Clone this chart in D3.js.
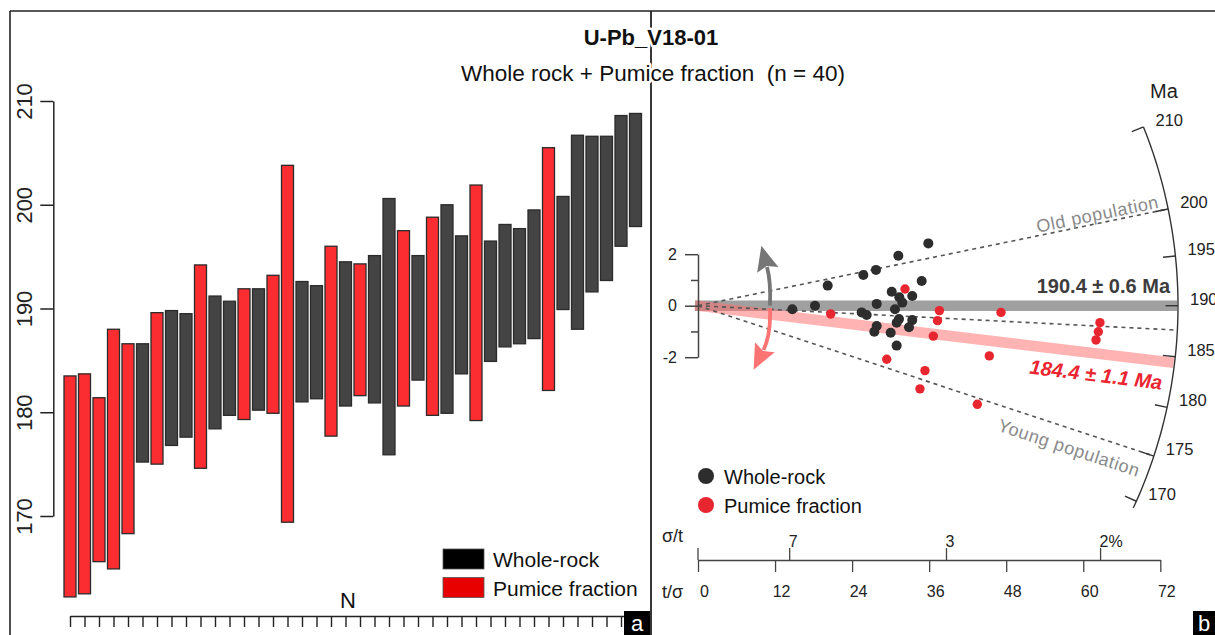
<!DOCTYPE html>
<html>
<head>
<meta charset="utf-8">
<script src="https://cdn.jsdelivr.net/npm/d3@7"></script>
<style>
  body { margin: 0; background: #fff; }
  svg text { font-family: "Liberation Sans", Arial, Helvetica, sans-serif; white-space: pre; }
</style>
</head>
<body>
<script>
const wid = 1215, hei = 635;

// ---- panel a: single-grain ages, one bar per grain (top / bottom in Ma)
const barType = ['P','P','P','P','P','W','P','W','W','P','W','W','P','W','P','P','W','W','P','W',
                 'P','W','W','P','W','P','W','W','P','W','W','W','W','P','W','W','W','W','W','W'];
const barTop = [183.5,183.7,181.4,188.0,186.6,186.6,189.6,189.8,189.5,194.2,191.2,190.7,191.9,191.9,193.2,203.8,192.6,192.2,196.0,194.5,
                194.3,195.1,200.6,197.5,195.1,198.8,200.0,197.0,201.9,196.5,198.1,197.7,199.5,205.5,200.8,206.7,206.6,206.6,208.6,208.8];
const barBottom = [162.2,162.5,165.6,164.9,168.3,175.2,175.0,176.8,177.6,174.6,178.4,179.7,179.3,180.2,179.9,169.4,181.0,181.3,177.7,180.6,
                   181.6,180.9,175.9,180.6,183.1,179.7,179.9,183.7,179.2,184.9,186.3,186.6,187.1,182.1,189.9,188.0,191.6,192.7,196.0,197.9];
const ageTicksA = [170, 180, 190, 200, 210];

// ---- panel b: radial plot, x = t/sigma, z = standardised estimate
const wrX = [14.69,18.22,20.2,25.75,27.72,31.2,35.87,34.84,30.17,31.35,33.37,31.82,27.83,30.68,25.49,26.27,31.3,30.94,33.37,32.86,27.83,27.46,30.01,30.94];
const wrZ = [-0.14,0.0,0.78,1.19,1.39,1.94,2.42,0.96,0.54,0.33,0.38,0.12,0.07,-0.14,-0.26,-0.36,-0.52,-0.66,-0.56,-0.84,-0.79,-1.01,-1.05,-1.55];
const pfX = [20.67,32.24,29.39,35.35,34.57,37.6,37.3,36.65,47.19,45.37,43.5,62.6,62.35,61.99];
const pfZ = [-0.32,0.65,-2.08,-2.52,-3.23,-0.19,-0.58,-1.18,-0.26,-1.95,-3.83,-0.66,-1.01,-1.33];

const tSigTicks = [0, 12, 24, 36, 48, 60, 72];
const sigTPos = [14.28, 38.7, 62.7];          // where the sigma/t ticks sit on the t/sigma axis
const sigTLabels = ['7', '3', '2%'];
const zTicks = [-2, -1, 0, 1, 2];
const arcAges = [170, 175, 180, 185, 190, 195, 200, 210];
const arcRange = [169.2, 210];
const centreAge = 190;
const popAges = [200, 187.6, 175];             // old, all, young (dashed)
const bandAges = [190.0, 184.4];               // band positions read on the arc
const bandLabels = ['190.4 \u00b1 0.6 Ma', '184.4 \u00b1 1.1 Ma'];

const red = '#fb2d30', dark = '#444444';

let svg = d3.select('body').append('svg')
    .attr('width', wid).attr('height', hei);

// frame
svg.append('line').attr('x1', 10).attr('x2', wid).attr('y1', 11).attr('y2', 11)
    .attr('stroke', '#222').attr('stroke-width', 1.6);
svg.append('line').attr('x1', 10).attr('x2', 10).attr('y1', 11).attr('y2', hei)
    .attr('stroke', '#222').attr('stroke-width', 1.6);
svg.append('line').attr('x1', 651).attr('x2', 651).attr('y1', 11).attr('y2', hei)
    .attr('stroke', '#222').attr('stroke-width', 1.8);

// titles (white halo breaks the divider like the original)
const halo = (sel) => sel.attr('stroke', '#fff').attr('stroke-width', 5)
    .attr('paint-order', 'stroke').attr('stroke-linejoin', 'round');
svg.append('text').attr('x', 651).attr('y', 45).attr('text-anchor', 'middle')
    .attr('font-size', 22).attr('font-weight', 'bold').attr('fill', '#111')
    .text('U-Pb_V18-01').call(halo);
svg.append('text').attr('x', 653).attr('y', 81).attr('text-anchor', 'middle')
    .attr('font-size', 22.5).attr('fill', '#111')
    .text('Whole rock + Pumice fraction  (n = 40)').call(halo);

// ================= panel a =================
const yA = d3.scaleLinear().domain([170, 210]).range([516, 101]);
const xA = d3.scaleLinear().domain([1, 40]).range([70, 635.5]);

let bars = svg.append('g').selectAll('rect')
    .data(barTop.map((t, i) => ({i: i + 1, top: t, bot: barBottom[i], type: barType[i]})))
    .enter().append('rect')
    .attr('x', d => xA(d.i) - 6)
    .attr('width', 12)
    .attr('y', d => yA(d.top))
    .attr('height', d => yA(d.bot) - yA(d.top))
    .attr('fill', d => d.type == 'P' ? red : dark)
    .attr('stroke', '#2b2b2b')
    .attr('stroke-width', 1.3);

let axA = svg.append('g').attr('transform', 'translate(53.3,0)')
    .call(d3.axisLeft(yA).tickValues(ageTicksA).tickSize(13).tickSizeOuter(0).tickFormat(d3.format('d')));
axA.select('.domain').attr('stroke', '#222').attr('stroke-width', 1.5);
axA.selectAll('.tick line').attr('stroke', '#222').attr('stroke-width', 1.5);
axA.selectAll('.tick text')
    .attr('x', 0).attr('y', -21).attr('dy', 0)
    .attr('transform', 'rotate(-90)')
    .attr('text-anchor', 'middle')
    .attr('font-size', 22).attr('fill', '#222');

let axN = svg.append('g').attr('transform', 'translate(0,616)')
    .call(d3.axisBottom(xA).tickValues(d3.range(1, 41)).tickSize(11).tickSizeOuter(0).tickFormat(''));
axN.selectAll('path, line').attr('stroke', '#222').attr('stroke-width', 1.4);
svg.append('text').attr('x', 348).attr('y', 608).attr('text-anchor', 'middle')
    .attr('font-size', 22).attr('fill', '#111').text('N');

// legend a
const legA = [['Whole-rock', '#000'], ['Pumice fraction', '#e80000']];
legA.forEach((l, i) => {
    svg.append('rect').attr('x', 443).attr('y', 549 + i * 28.5).attr('width', 41).attr('height', 20)
        .attr('fill', l[1]).attr('stroke', '#555').attr('stroke-width', 0.8);
    svg.append('text').attr('x', 493).attr('y', 566.5 + i * 29).attr('font-size', 21)
        .attr('fill', '#111').text(l[0]);
});

// ================= panel b =================
const xs = d3.scaleLinear().domain([0, 72]).range([698, 1160.3]);
const zs = d3.scaleLinear().domain([-2, 2]).range([357.2, 254.2]);
const R = 480;
const ox = xs(0), oy = zs(0);

// unit direction (in pixels) of the line for a given age
function dirOf(age) {
    let dx = xs(1) - xs(0), dy = zs(Math.log(age / centreAge)) - zs(0);
    let L = Math.hypot(dx, dy);
    return [dx / L, dy / L];
}
function radial(age, r) {
    let d = dirOf(age);
    return [ox + d[0] * r, oy + d[1] * r];
}
function angleOf(age) {
    let d = dirOf(age);
    return Math.atan2(d[1], d[0]) * 180 / Math.PI;
}

// bands
const bandCol = ['rgba(120,120,120,0.7)', 'rgba(255,110,110,0.52)'];
bandAges.forEach((a, i) => {
    let p0 = radial(a, -3), p1 = radial(a, R - 1);
    svg.append('line').attr('x1', p0[0]).attr('y1', p0[1]).attr('x2', p1[0]).attr('y2', p1[1])
        .attr('stroke', bandCol[i]).attr('stroke-width', 10.5);
});

// dashed population lines
popAges.forEach(a => {
    let p1 = radial(a, R);
    svg.append('line').attr('x1', ox).attr('y1', oy).attr('x2', p1[0]).attr('y2', p1[1])
        .attr('stroke', '#555').attr('stroke-width', 1.6).attr('stroke-dasharray', '4,4');
});

// curved arrows (data coordinates)
const defs = svg.append('defs');
[['arrG', '#767676'], ['arrR', '#fb7373']].forEach(m => {
    defs.append('marker').attr('id', m[0]).attr('markerUnits', 'userSpaceOnUse')
        .attr('markerWidth', 26).attr('markerHeight', 22).attr('refX', 3).attr('refY', 11)
        .attr('orient', 'auto')
        .append('path').attr('d', 'M0,0 L25,11 L0,22 L4,11 Z').attr('fill', m[1]);
});
const arrows = [
    {pts: [[11.21, 0.0], [11.37, 0.92], [10.75, 1.50]], col: '#767676', id: 'arrG'},
    {pts: [[11.21, -0.09], [11.37, -1.14], [10.2, -1.72]], col: '#fb7373', id: 'arrR'}
];
arrows.forEach(a => {
    let p = a.pts.map(q => [xs(q[0]), zs(q[1])]);
    svg.append('path')
        .attr('d', `M${p[0][0]},${p[0][1]} Q${p[1][0]},${p[1][1]} ${p[2][0]},${p[2][1]}`)
        .attr('fill', 'none').attr('stroke', a.col).attr('stroke-width', 3.8)
        .attr('marker-end', `url(#${a.id})`);
});

// points
svg.append('g').selectAll('circle')
    .data(wrX.map((x, i) => [x, wrZ[i]]))
    .enter().append('circle')
    .attr('cx', d => xs(d[0])).attr('cy', d => zs(d[1])).attr('r', 5)
    .attr('fill', '#2d2d2d');
svg.append('g').selectAll('circle')
    .data(pfX.map((x, i) => [x, pfZ[i]]))
    .enter().append('circle')
    .attr('cx', d => xs(d[0])).attr('cy', d => zs(d[1])).attr('r', 4.7)
    .attr('fill', '#e8262f');

// z axis
let axZ = svg.append('g').attr('transform', `translate(${ox},0)`)
    .call(d3.axisLeft(zs).tickValues(zTicks).tickSize(13).tickSizeOuter(0)
        .tickFormat(d => Math.abs(d) == 1 ? '' : d3.format('d')(d)));
axZ.select('.domain').attr('stroke', '#444').attr('stroke-width', 1.5);
axZ.selectAll('.tick line').attr('stroke', '#444').attr('stroke-width', 1.5)
    .attr('x2', d => Math.abs(d) == 1 ? -7 : -13);
axZ.selectAll('.tick text').attr('x', -21).attr('font-size', 16).attr('fill', '#222')
    .text(d => Math.abs(d) == 1 ? '' : (d < 0 ? '-' + Math.abs(d) : d));

// t/sigma axis
const axY = 560;
let axT = svg.append('g').attr('transform', `translate(0,${axY})`)
    .call(d3.axisBottom(xs).tickValues(tSigTicks).tickSize(12).tickSizeOuter(0));
axT.selectAll('path, line').attr('stroke', '#444').attr('stroke-width', 1.3);
axT.selectAll('.tick text').attr('y', 0).attr('dy', 37).attr('dx', 6)
    .attr('font-size', 16).attr('fill', '#222');
// sigma/t ticks above
svg.append('line').attr('x1', xs(0)).attr('x2', xs(0)).attr('y1', axY).attr('y2', axY - 12)
    .attr('stroke', '#444').attr('stroke-width', 1.3);
sigTPos.forEach((v, i) => {
    svg.append('line').attr('x1', xs(v)).attr('x2', xs(v)).attr('y1', axY).attr('y2', axY - 12)
        .attr('stroke', '#444').attr('stroke-width', 1.3);
    svg.append('text').attr('x', xs(v) - 1).attr('y', axY - 13.5).attr('font-size', 16)
        .attr('fill', '#222').text(sigTLabels[i]);
});
svg.append('text').attr('x', 662).attr('y', 542).attr('font-size', 18).attr('fill', '#222').text('\u03c3/t');
svg.append('text').attr('x', 662).attr('y', 598).attr('font-size', 18).attr('fill', '#222').text('t/\u03c3');

// age arc
const arcSteps = d3.range(0, 61).map(k => arcRange[0] + (arcRange[1] - arcRange[0]) * k / 60);
svg.append('path')
    .attr('d', d3.line()(arcSteps.map(a => radial(a, R))))
    .attr('fill', 'none').attr('stroke', '#333').attr('stroke-width', 1.4);
arcAges.forEach(a => {
    let p0 = radial(a, R - 12.5), p1 = radial(a, R);
    svg.append('line').attr('x1', p0[0]).attr('y1', p0[1]).attr('x2', p1[0]).attr('y2', p1[1])
        .attr('stroke', '#333').attr('stroke-width', 1.4);
    svg.append('text').attr('x', p1[0] + 12).attr('y', p1[1] - 5.5)
        .attr('dominant-baseline', 'middle').attr('font-size', 16.5).attr('fill', '#222').text(a);
});
svg.append('text').attr('x', 1150).attr('y', 98).attr('font-size', 20).attr('fill', '#222').text('Ma');

// population labels along their lines
function alongText(age, along, perp, txt, anchor) {
    let d = dirOf(age);
    let px = ox + d[0] * along - d[1] * perp, py = oy + d[1] * along + d[0] * perp;
    return svg.append('text')
        .attr('transform', `translate(${px},${py}) rotate(${angleOf(age)})`)
        .attr('text-anchor', anchor).text(txt);
}
alongText(popAges[0], 472, -3, 'Old population', 'end')
    .attr('font-size', 18).attr('letter-spacing', 0.6).attr('fill', '#8a8a8a');
alongText(popAges[2], 471, 25, 'Young population', 'end')
    .attr('font-size', 18).attr('letter-spacing', 0.6).attr('fill', '#8a8a8a');

// band labels
svg.append('text').attr('x', 1170).attr('y', 293).attr('text-anchor', 'end')
    .attr('font-size', 20).attr('font-weight', 'bold').attr('fill', '#3d3d3d').text(bandLabels[0]);
alongText(bandAges[1], 470, 28, bandLabels[1], 'end')
    .attr('font-size', 20).attr('font-weight', 'bold').attr('font-style', 'italic').attr('fill', '#ea2530');

// legend b
const legB = [['Whole-rock', '#2d2d2d'], ['Pumice fraction', '#e8262f']];
legB.forEach((l, i) => {
    svg.append('circle').attr('cx', 706).attr('cy', 476 + i * 29).attr('r', 8).attr('fill', l[1]);
    svg.append('text').attr('x', 724).attr('y', 483.5 + i * 29).attr('font-size', 20)
        .attr('fill', '#111').text(l[0]);
});

// panel letters
[['a', 624, 26], ['b', 1193, 22]].forEach(p => {
    svg.append('rect').attr('x', p[1]).attr('y', 611).attr('width', p[2]).attr('height', 24).attr('fill', '#000');
    svg.append('text').attr('x', p[1] + p[2] / 2).attr('y', 631).attr('text-anchor', 'middle')
        .attr('font-size', 22).attr('fill', '#fff').text(p[0]);
});
</script>
</body>
</html>
